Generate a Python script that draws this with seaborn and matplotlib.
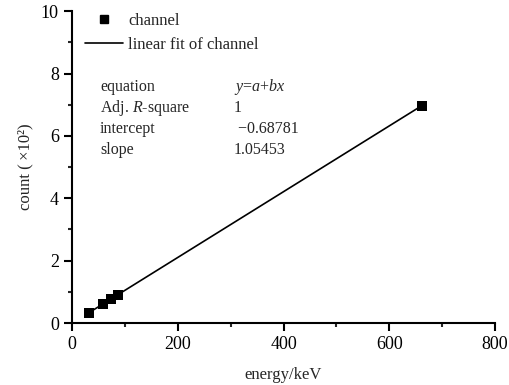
import matplotlib
matplotlib.use("Agg")
import matplotlib.pyplot as plt
import seaborn as sns
import numpy as np
import pandas as pd
from matplotlib.ticker import MultipleLocator
from matplotlib.lines import Line2D

energy = [32.2, 59.5, 74.5, 86.5, 661.7]
count = [0.33, 0.62, 0.78, 0.90, 6.97]
intercept = -0.68781
slope = 1.05453
fit_x = [energy[0], energy[-1]]
fit_y = [(intercept + slope * e) / 100 for e in fit_x]

sns.set_style("ticks")
plt.rcParams['font.family'] = ['Liberation Serif', 'Noto Sans CJK SC', 'DejaVu Serif']
plt.rcParams['mathtext.fontset'] = 'custom'
plt.rcParams['mathtext.rm'] = 'Liberation Serif'
plt.rcParams['mathtext.it'] = 'Liberation Serif:italic'

fig = plt.figure(figsize=(5.09, 3.85), dpi=100)
ax = fig.add_axes([0.1415, 0.161, 0.831, 0.810])

df_pts = pd.DataFrame({"energy": energy, "count": count})
df_fit = pd.DataFrame({"energy": fit_x, "count": fit_y})
sns.lineplot(data=df_fit, x="energy", y="count", ax=ax, color="black", lw=1.2)
sns.scatterplot(data=df_pts, x="energy", y="count", ax=ax, marker="s", color="black",
                s=45, edgecolor="black", linewidth=0, zorder=3)

ax.set_xlim(0, 800)
ax.set_ylim(0, 10)
ax.xaxis.set_major_locator(MultipleLocator(200))
ax.xaxis.set_minor_locator(MultipleLocator(100))
ax.yaxis.set_major_locator(MultipleLocator(2))
ax.yaxis.set_minor_locator(MultipleLocator(1))
ax.tick_params(axis="both", which="major", direction="out", length=6, width=1.5,
               labelsize=13, colors="black")
ax.tick_params(axis="both", which="minor", direction="out", length=3, width=1.5)
for s in ["left", "bottom"]:
    ax.spines[s].set_linewidth(1.5)
    ax.spines[s].set_color("black")
sns.despine(ax=ax)

ax.set_xlabel("energy/keV", fontsize=12, labelpad=10)
ax.set_ylabel("count (\u2009\u00d710\u00b2)", fontsize=12, labelpad=5)

# legend
handles = [Line2D([], [], marker="s", color="black", ls="none", markersize=6),
           Line2D([], [], color="black", lw=1.2)]
ax.legend(handles, ["channel", "linear fit of channel"], loc="upper left",
          bbox_to_anchor=(0.015, 1.015), frameon=False, fontsize=12,
          handlelength=2.3, handletextpad=0.3, labelspacing=0.45, borderaxespad=0)

rows = [("equation", "$y$=$a$+$bx$"),
        ("Adj. $R$-square", "1"),
        ("intercept", " \u22120.68781"),
        ("slope", "1.05453")]
y0 = 87
for i, (k, v) in enumerate(rows):
    yp = 1 - (y0 + i * 21) / 385
    fig.text(100 / 509, yp, k, fontsize=11.5, va="center", ha="left")
    fig.text(234 / 509, yp, v, fontsize=11.5, va="center", ha="left")

fig.savefig("out.png", dpi=100)
